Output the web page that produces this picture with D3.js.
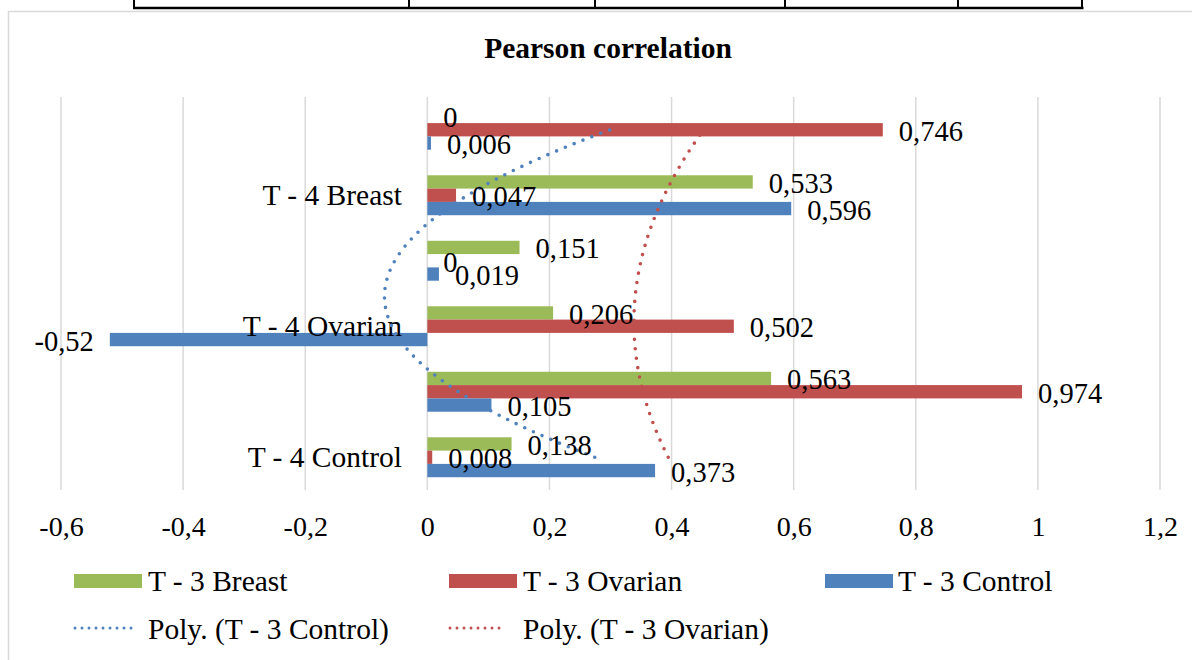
<!DOCTYPE html>
<html>
<head>
<meta charset="utf-8">
<script src="https://cdn.jsdelivr.net/npm/d3@7"></script>
<style>
  html, body { margin: 0; padding: 0; background: #fff; }
  svg { display: block; }
  text { font-family: "Liberation Serif", "Times New Roman", serif; fill: #000; }
</style>
</head>
<body>
<svg id="chart" width="1192" height="660"></svg>
<script>
// ---- data (Excel category order: bottom to top) ----
const categories = ["c1", "c2", "c3", "c4", "c5", "c6"];
const categoryLabels = ["T - 4 Control", "", "T - 4 Ovarian", "", "T - 4 Breast", ""];
const breast  = [0.138, 0.563, 0.206, 0.151, 0.533, 0];
const ovarian = [0.008, 0.974, 0.502, 0, 0.047, 0.746];
const control = [0.373, 0.105, -0.52, 0.019, 0.596, 0.006];
const seriesNames = ["T - 3 Breast", "T - 3 Ovarian", "T - 3 Control"];
const trendNames = ["Poly. (T - 3 Control)", "Poly. (T - 3 Ovarian)"];
const xTicks = [-0.6, -0.4, -0.2, 0, 0.2, 0.4, 0.6, 0.8, 1, 1.2];
const title = "Pearson correlation";

const colors = { breast: "#9BBB59", ovarian: "#C0504D", control: "#4F81BD" };
const series = [
  { key: "breast", name: seriesNames[0], values: breast },
  { key: "ovarian", name: seriesNames[1], values: ovarian },
  { key: "control", name: seriesNames[2], values: control }
];

const svg = d3.select("#chart");
const fmt = v => String(v).replace(".", ",");
const serif = '"Liberation Serif", "Times New Roman", serif';

// ---- surrounding page elements ----
svg.append("rect").attr("x", 8.5).attr("y", 11.5).attr("width", 1300).attr("height", 800)
  .attr("fill", "none").attr("stroke", "#d9d9d9").attr("stroke-width", 1.5);
const tableX = [134, 409, 595, 785, 958, 1082];
svg.append("line").attr("x1", 133).attr("x2", 1083.5).attr("y1", 8).attr("y2", 8)
  .attr("stroke", "#000").attr("stroke-width", 2.5);
svg.selectAll("line.tv").data(tableX).join("line").attr("class", "tv")
  .attr("x1", d => d).attr("x2", d => d).attr("y1", 0).attr("y2", 9)
  .attr("stroke", "#000").attr("stroke-width", 2);

// ---- scales ----
const plotTop = 97, plotBottom = 490;
const x = d3.scaleLinear().domain([-0.6, 1.2]).range([61, 1160]);
const y = d3.scaleBand().domain(categories).range([plotBottom, plotTop]).padding(0);
const inner = d3.scaleBand().domain(series.map(s => s.key)).range([0, y.bandwidth()])
  .paddingInner(0).paddingOuter(0.96);

// title
svg.append("text").attr("x", 608).attr("y", 58).attr("text-anchor", "middle")
  .attr("font-family", serif).attr("font-size", 29.5).attr("font-weight", "bold").text(title);

// gridlines
svg.append("g").selectAll("line").data(xTicks).join("line")
  .attr("x1", d => x(d)).attr("x2", d => x(d))
  .attr("y1", plotTop).attr("y2", plotBottom)
  .attr("stroke", "#d9d9d9").attr("stroke-width", 1.5);

// x axis labels
const xAxis = d3.axisBottom(x).tickValues(xTicks).tickSize(0).tickPadding(0).tickFormat(fmt);
const gx = svg.append("g").attr("transform", `translate(0,${plotBottom})`).call(xAxis)
  .attr("font-family", serif).attr("font-size", 28);
gx.select(".domain").remove();
gx.selectAll("text").attr("font-size", 28).attr("dy", null).attr("y", 46)
  .attr("font-family", serif).attr("fill", "#000");

// bars
const gBars = svg.append("g");
series.forEach(s => {
  gBars.selectAll(null).data(s.values.map((v, i) => ({ v, c: categories[i] }))).join("rect")
    .attr("x", d => x(Math.min(0, d.v)))
    .attr("width", d => Math.abs(x(d.v) - x(0)))
    .attr("y", d => y(d.c) + inner(s.key))
    .attr("height", inner.bandwidth())
    .attr("fill", colors[s.key]);
});

// category axis labels
svg.append("g").selectAll("text").data(categories).join("text")
  .attr("x", 402).attr("y", (d) => y(d) + y.bandwidth() / 2 + 9.5)
  .attr("text-anchor", "end").attr("font-family", serif).attr("font-size", 29.5)
  .text((d, i) => categoryLabels[i]);

// polynomial (order 2) trendlines, least squares on category index 1..n
function polyFit2(vals) {
  const n = vals.length;
  const xs = vals.map((_, i) => i + 1);
  const S = k => d3.sum(xs, v => Math.pow(v, k));
  const T = k => d3.sum(xs, (v, i) => Math.pow(v, k) * vals[i]);
  const A = [[n, S(1), S(2)], [S(1), S(2), S(3)], [S(2), S(3), S(4)]];
  const b = [T(0), T(1), T(2)];
  for (let i = 0; i < 3; i++) {
    for (let j = i + 1; j < 3; j++) {
      const f = A[j][i] / A[i][i];
      for (let k = i; k < 3; k++) A[j][k] -= f * A[i][k];
      b[j] -= f * b[i];
    }
  }
  const c = [0, 0, 0];
  for (let i = 2; i >= 0; i--) {
    let s = b[i];
    for (let k = i + 1; k < 3; k++) s -= A[i][k] * c[k];
    c[i] = s / A[i][i];
  }
  return t => c[0] + c[1] * t + c[2] * t * t;
}
const yIdx = d3.scaleLinear().domain([1, categories.length])
  .range([y(categories[0]) + y.bandwidth() / 2, y(categories[categories.length - 1]) + y.bandwidth() / 2]);
const ts = d3.range(1, categories.length + 0.0001, 0.05);
[{ vals: control, color: colors.control }, { vals: ovarian, color: colors.ovarian }].forEach(tr => {
  const f = polyFit2(tr.vals);
  svg.append("path").datum(ts)
    .attr("d", d3.line().x(t => x(f(t))).y(t => yIdx(t)).curve(d3.curveLinear))
    .attr("fill", "none").attr("stroke", tr.color).attr("stroke-width", 3.6)
    .attr("stroke-linecap", "round").attr("stroke-dasharray", "0 9.5");
});

// data labels
const gLab = svg.append("g");
series.forEach(s => {
  gLab.selectAll(null).data(s.values.map((v, i) => ({ v, c: categories[i] }))).join("text")
    .attr("x", d => d.v < 0 ? x(d.v) - 16 : x(d.v) + 16)
    .attr("text-anchor", d => d.v < 0 ? "end" : "start")
    .attr("y", d => y(d.c) + inner(s.key) + inner.bandwidth() / 2 + 11)
    .attr("font-family", serif).attr("font-size", 28.5)
    .text(d => fmt(d.v));
});

// legend
const leg = svg.append("g");
const legRow1 = [
  { key: "breast", x: 74, tx: 148 },
  { key: "ovarian", x: 449, tx: 523 },
  { key: "control", x: 825, tx: 898 }
];
legRow1.forEach((d, i) => {
  leg.append("rect").attr("x", d.x).attr("y", 574).attr("width", 68).attr("height", 14).attr("fill", colors[d.key]);
  leg.append("text").attr("x", d.tx).attr("y", 591).attr("font-family", serif).attr("font-size", 29.5).text(seriesNames[i]);
});
const legRow2 = [
  { color: colors.control, x1: 75, x2: 137, tx: 148 },
  { color: colors.ovarian, x1: 450, x2: 505, tx: 523 }
];
legRow2.forEach((d, i) => {
  leg.append("line").attr("x1", d.x1).attr("x2", d.x2).attr("y1", 628).attr("y2", 628)
    .attr("stroke", d.color).attr("stroke-width", 3).attr("stroke-linecap", "round")
    .attr("stroke-dasharray", "0 7");
  leg.append("text").attr("x", d.tx).attr("y", 639).attr("font-family", serif).attr("font-size", 29.5).text(trendNames[i]);
});
</script>
</body>
</html>
